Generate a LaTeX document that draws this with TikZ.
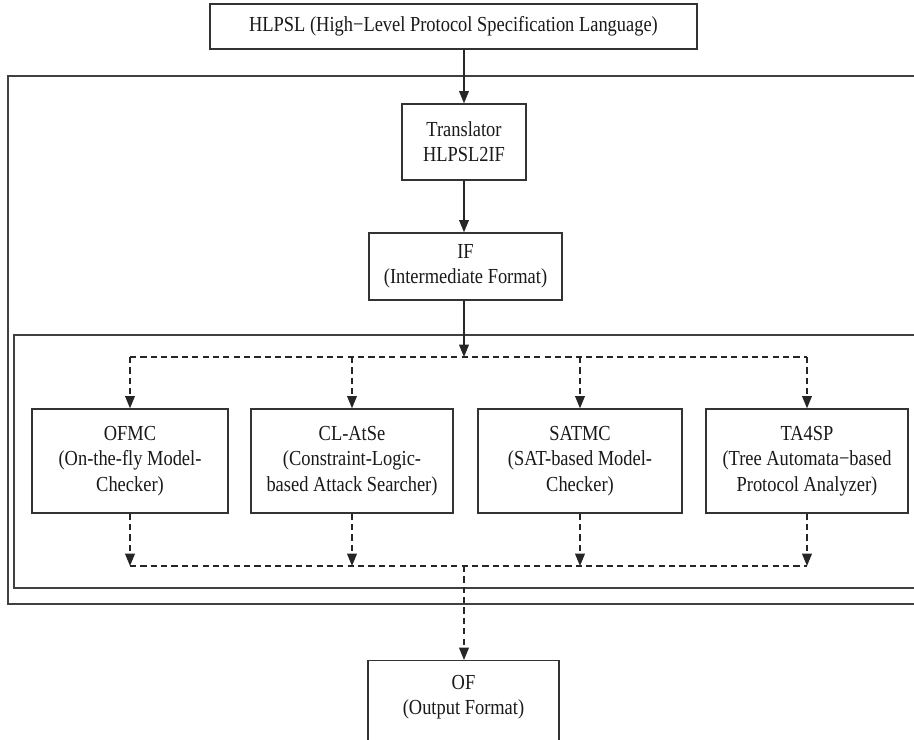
\documentclass[tikz,border=0pt]{standalone}
\usepackage{fontspec}
\setmainfont[FakeStretch=0.86]{Liberation Serif}
\usetikzlibrary{arrows.meta,calc}
\begin{document}
\begin{tikzpicture}[x=0.02cm,y=-0.02cm,
  every node/.style={font=\fontsize{12.2}{14.4}\selectfont, text=black!90},
  box/.style={draw=black!80, line width=0.75pt, align=center, inner sep=0pt, fill=white},
  lbl/.style={align=center, inner sep=0pt},
  frame/.style={draw=black!75, line width=0.9pt},
  arr/.style={draw=black!85, line width=0.9pt, -{Triangle[length=7pt,width=5.5pt]}},
  darr/.style={arr, dash pattern=on 3.5pt off 2.4pt},
  dline/.style={draw=black!85, line width=0.9pt, dash pattern=on 3.5pt off 2.4pt}]
\useasboundingbox (0,0) rectangle (914,740);
\fill[white] (0,0) rectangle (914,740);
% frames
\draw[frame] (930,76) -- (8,76) -- (8,604) -- (930,604);
\draw[frame] (930,335) -- (14,335) -- (14,588) -- (930,588);
% nodes
\node[box, minimum width=9.74cm, minimum height=0.9cm] (hlpsl) at (453.5,26.5) {HLPSL (High−Level Protocol Specification Language)};
\node[box, minimum width=2.48cm, minimum height=1.52cm] (trans) at (464,142) {Translator\\HLPSL2IF};
\node[box, minimum width=3.86cm, minimum height=1.34cm] (if) at (465.5,266.5) {IF\\(Intermediate Format)};
\node[box, minimum width=3.92cm, minimum height=2.08cm] (ofmc) at (130,461) {OFMC\\(On-the-fly Model-\\Checker)};
\node[box, minimum width=4.04cm, minimum height=2.08cm] (clatse) at (352,461) {CL-AtSe\\(Constraint-Logic-\\based Attack Searcher)};
\node[box, minimum width=4.08cm, minimum height=2.08cm] (satmc) at (580,461) {SATMC\\(SAT-based Model-\\Checker)};
\node[box, minimum width=4.04cm, minimum height=2.08cm] (ta4sp) at (807,461) {TA4SP\\(Tree Automata−based\\Protocol Analyzer)};
\node[box, minimum width=3.82cm, minimum height=1.7cm, anchor=north] (of) at (463.5,660) {};
\node[lbl] (oftext) at (463.5,697.5) {OF\\(Output Format)};
\coordinate (split) at (464,357);
\coordinate (merge) at (464,566);
% solid arrows
\draw[arr] (hlpsl.south -| trans.north) -- (trans.north);
\draw[arr] (trans.south) -- (trans.south |- if.north);
\draw[arr] (if.south -| split) -- (split);
% dashed distribution
\draw[dline] (ofmc.north |- split) -- (ta4sp.north |- split);
\foreach \n in {ofmc,clatse,satmc,ta4sp}{
  \draw[darr] (\n.north |- split) -- (\n.north);
  \draw[darr] (\n.south) -- (\n.south |- merge);
}
\draw[dline] (ofmc.south |- merge) -- (ta4sp.south |- merge);
\draw[darr] (merge) -- (merge |- of.north);
\end{tikzpicture}
\end{document}
